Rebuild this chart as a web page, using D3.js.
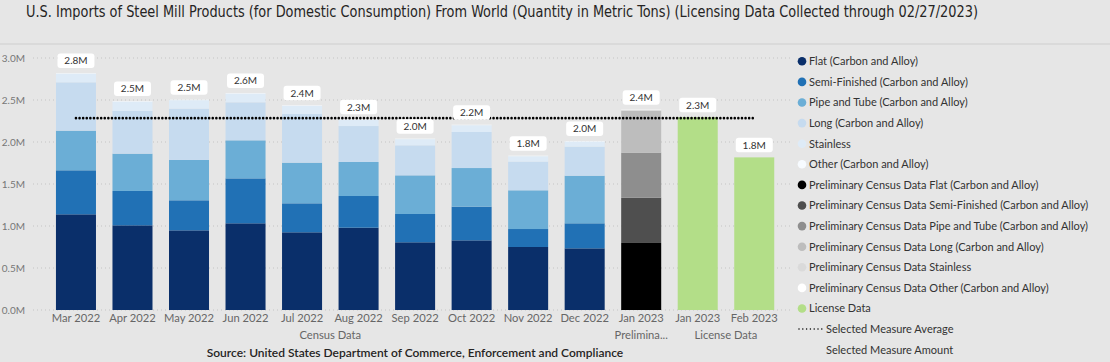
<!DOCTYPE html>
<html>
<head>
<meta charset="utf-8">
<script src="https://cdn.jsdelivr.net/npm/d3@7"></script>
<style>
  html, body { margin: 0; padding: 0; background: #e6e6e6; }
  svg { display: block; }
</style>
</head>
<body>
<div id="chart"></div>
<script>
// ---------- DATA (metric tons) ----------
const censusMonths  = ["Mar 2022","Apr 2022","May 2022","Jun 2022","Jul 2022","Aug 2022","Sep 2022","Oct 2022","Nov 2022","Dec 2022"];
const prelimMonths  = ["Jan 2023"];
const licenseMonths = ["Jan 2023","Feb 2023"];
const groupLabels   = ["Census Data", "Prelimina...", "License Data"];

const flatCensus      = [1139000, 1008000, 948000, 1032000, 925000, 980000, 806000, 829000, 750000, 734000];
const semiCensus      = [524000, 409000, 358000, 535000, 345000, 377000, 337000, 401000, 214000, 298000];
const pipeCensus      = [472000, 444000, 480000, 453000, 484000, 405000, 460000, 460000, 461000, 567000];
const longCensus      = [575000, 508000, 611000, 452000, 579000, 428000, 357000, 429000, 341000, 345000];
const stainlessCensus = [104000, 113000, 101000, 105000, 98000, 74000, 74000, 81000, 65000, 62000];
const otherCensus     = [6000, 6000, 6000, 6000, 6000, 6000, 6000, 6000, 6000, 6000];

const flatPrelim      = [798000];
const semiPrelim      = [539000];
const pipePrelim      = [536000];
const longPrelim      = [497000];
const stainlessPrelim = [10000];
const otherPrelim     = [5000];

const licenseData     = [2294000, 1817000];

const yTicks = [0, 500000, 1000000, 1500000, 2000000, 2500000, 3000000];

const seriesNames = [
  "Flat (Carbon and Alloy)", "Semi-Finished (Carbon and Alloy)", "Pipe and Tube (Carbon and Alloy)",
  "Long (Carbon and Alloy)", "Stainless", "Other (Carbon and Alloy)",
  "Preliminary Census Data Flat (Carbon and Alloy)", "Preliminary Census Data Semi-Finished (Carbon and Alloy)",
  "Preliminary Census Data Pipe and Tube (Carbon and Alloy)", "Preliminary Census Data Long (Carbon and Alloy)",
  "Preliminary Census Data Stainless", "Preliminary Census Data Other (Carbon and Alloy)", "License Data"
];
const seriesColors = [
  "#0a2f6a", "#2171b5", "#6baed6", "#c6dbef", "#deebf7", "#f7fbff",
  "#000000", "#4f4f4f", "#8e8e8e", "#bdbdbd", "#dadada", "#ffffff", "#b3de88"
];

// ---------- BUILD TABLE ----------
const censusSeries = [flatCensus, semiCensus, pipeCensus, longCensus, stainlessCensus, otherCensus];
const prelimSeries = [flatPrelim, semiPrelim, pipePrelim, longPrelim, stainlessPrelim, otherPrelim];
const rows = [];
censusMonths.forEach((m, i) => {
  const r = { id: "c" + i, label: m, group: groupLabels[0] };
  seriesNames.forEach(k => r[k] = 0);
  censusSeries.forEach((s, j) => r[seriesNames[j]] = s[i]);
  rows.push(r);
});
prelimMonths.forEach((m, i) => {
  const r = { id: "p" + i, label: m, group: groupLabels[1] };
  seriesNames.forEach(k => r[k] = 0);
  prelimSeries.forEach((s, j) => r[seriesNames[6 + j]] = s[i]);
  rows.push(r);
});
licenseMonths.forEach((m, i) => {
  const r = { id: "l" + i, label: m, group: groupLabels[2] };
  seriesNames.forEach(k => r[k] = 0);
  r[seriesNames[12]] = licenseData[i];
  rows.push(r);
});
rows.forEach(r => r.total = d3.sum(seriesNames, k => r[k]));
const avg = d3.mean(rows, r => r.total);

// ---------- SVG ----------
const W = 1110, H = 362;
const svg = d3.select("#chart").append("svg").attr("width", W).attr("height", H);
svg.append("rect").attr("width", W).attr("height", H).attr("fill", "#e6e6e6");

const uiFont = "Lato, 'Open Sans', 'Noto Sans', sans-serif";

svg.append("text")
  .attr("x", 26).attr("y", 17)
  .attr("font-family", "'DejaVu Sans Condensed', 'Liberation Sans Narrow', Roboto, sans-serif")
  .attr("font-stretch", "condensed")
  .attr("font-size", 15).attr("fill", "#252423")
  .attr("textLength", 952).attr("lengthAdjust", "spacingAndGlyphs")
  .text("U.S. Imports of Steel Mill Products (for Domestic Consumption) From World  (Quantity in Metric Tons) (Licensing Data Collected through 02/27/2023)");

// separator
svg.append("rect").attr("x", 0).attr("y", 43).attr("width", W).attr("height", 2).attr("fill", "#dadada");

// scales
const x = d3.scaleBand().domain(rows.map(r => r.id)).range([47.7, 782.5]).paddingInner(0.292).paddingOuter(0.146);
const y = d3.scaleLinear().domain([0, 3000000]).range([310, 58]);

// gridlines
svg.append("g").selectAll("line").data(yTicks).join("line")
  .attr("x1", 33).attr("x2", 790)
  .attr("y1", d => y(d)).attr("y2", d => y(d))
  .attr("stroke", "#c4c4c4").attr("stroke-width", 1).attr("stroke-dasharray", "1,3");

// y axis
const yAxis = d3.axisLeft(y).tickValues(yTicks).tickSize(0).tickPadding(0)
  .tickFormat(d => (d / 1e6).toFixed(1) + "M");
const yg = svg.append("g").attr("transform", "translate(25,0)").call(yAxis);
yg.select(".domain").remove();
yg.selectAll("text").attr("font-family", uiFont).attr("font-size", 10).attr("fill", "#777");

// stacked bars
const stack = d3.stack().keys(seriesNames);
const stacked = stack(rows);
svg.append("g").selectAll("g").data(stacked).join("g")
  .attr("fill", (d, i) => seriesColors[i])
  .selectAll("rect").data(d => d.filter(p => p[1] - p[0] > 0)).join("rect")
  .attr("x", p => x(p.data.id))
  .attr("width", x.bandwidth())
  .attr("y", p => y(p[1]))
  .attr("height", p => y(p[0]) - y(p[1]));

// average line
svg.append("line")
  .attr("x1", x(rows[0].id) + x.bandwidth() / 2)
  .attr("x2", x(rows[rows.length - 1].id) + x.bandwidth() / 2)
  .attr("y1", y(avg)).attr("y2", y(avg))
  .attr("stroke", "#000").attr("stroke-width", 2.6)
  .attr("stroke-linecap", "round").attr("stroke-dasharray", "0,3.6");

// data labels
const lab = svg.append("g").selectAll("g").data(rows).join("g")
  .attr("transform", r => `translate(${x(r.id) + x.bandwidth() / 2},${y(r.total) - 5})`);
lab.append("rect").attr("x", -18.5).attr("y", -14.5).attr("width", 37).attr("height", 14.5)
  .attr("rx", 3).attr("fill", "#ffffff");
lab.append("text").attr("x", 0).attr("y", -7.2).attr("dy", "0.35em")
  .attr("text-anchor", "middle").attr("font-family", uiFont).attr("font-size", 10)
  .attr("fill", "#333")
  .text(r => (r.total / 1e6).toFixed(1) + "M");

// x axis labels
const xAxis = d3.axisBottom(x).tickSize(0).tickPadding(0).tickFormat(id => rows.find(r => r.id === id).label);
const xg = svg.append("g").attr("transform", "translate(0,314)").call(xAxis);
xg.select(".domain").remove();
xg.selectAll("text").attr("font-family", uiFont).attr("font-size", 11.2).attr("fill", "#666");

// group labels
const groupInfo = d3.groups(rows, r => r.group).map(([g, rs]) => ({
  g, cx: (x(rs[0].id) + x(rs[rs.length - 1].id) + x.bandwidth()) / 2
}));
svg.append("g").selectAll("text").data(groupInfo).join("text")
  .attr("x", d => d.cx).attr("y", 335).attr("dy", "0.35em")
  .attr("text-anchor", "middle").attr("font-family", uiFont).attr("font-size", 11.2).attr("fill", "#666")
  .text(d => d.g);

// source
svg.append("text").attr("x", 415).attr("y", 353).attr("dy", "0.35em")
  .attr("text-anchor", "middle").attr("font-family", uiFont).attr("font-size", 12)
  .attr("font-weight", 600).attr("fill", "#252423")
  .text("Source: United States Department of Commerce, Enforcement and Compliance");

// legend
const legY = d3.scaleLinear().domain([0, 14]).range([61.3, 349.7]);
const leg = svg.append("g");
const li = leg.selectAll("g").data(seriesNames).join("g")
  .attr("transform", (d, i) => `translate(0,${legY(i)})`);
li.append("circle").attr("cx", 802).attr("cy", 0).attr("r", 4.3)
  .attr("fill", (d, i) => seriesColors[i]);
li.append("text").attr("x", 809).attr("y", 0).attr("dy", "0.35em")
  .attr("font-family", uiFont).attr("font-size", 11).attr("fill", "#333")
  .text(d => d);
const avgRow = leg.append("g").attr("transform", `translate(0,${legY(13)})`);
avgRow.append("line").attr("x1", 799).attr("x2", 822).attr("y1", 0).attr("y2", 0)
  .attr("stroke", "#000").attr("stroke-width", 1.5).attr("stroke-linecap", "round").attr("stroke-dasharray", "0,3.8");
avgRow.append("text").attr("x", 826).attr("dy", "0.35em")
  .attr("font-family", uiFont).attr("font-size", 11).attr("fill", "#333").text("Selected Measure Average");
leg.append("text").attr("x", 826).attr("y", legY(14)).attr("dy", "0.35em")
  .attr("font-family", uiFont).attr("font-size", 11).attr("fill", "#333").text("Selected Measure Amount");
</script>
</body>
</html>
